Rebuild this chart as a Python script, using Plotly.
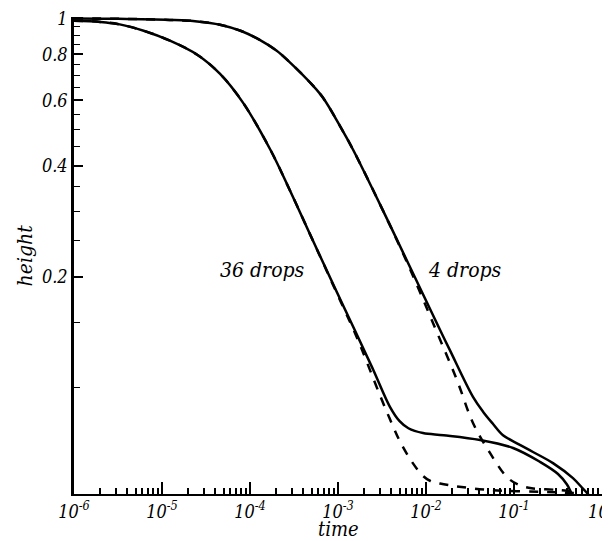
import plotly.graph_objects as go

# log10(time) and height
s36_logt = [-6.0, -5.7, -5.48, -5.2, -4.91, -4.6, -4.34, -4.08, -3.77, -3.55, -3.28, -3.06, -2.81,
            -2.6, -2.41, -2.3, -2.2, -2.034, -1.8, -1.386, -1.011, -0.705, -0.5, -0.398, -0.34, -0.28]
s36_h = [0.986, 0.979, 0.964, 0.925, 0.871, 0.798, 0.708, 0.592, 0.442, 0.344, 0.249, 0.192, 0.1435,
         0.112, 0.0889, 0.0813, 0.0778, 0.0755, 0.0745, 0.0723, 0.0688, 0.0631, 0.0585, 0.0548, 0.0516, 0.049]

d36_logt = [-6.0, -5.7, -5.48, -5.2, -4.91, -4.6, -4.34, -4.08, -3.77, -3.55, -3.28, -3.06, -2.81,
            -2.727, -2.523, -2.4, -2.295, -2.16, -2.034, -1.95, -1.841, -1.307, -0.511, -0.3]
d36_h = [0.986, 0.979, 0.964, 0.925, 0.871, 0.798, 0.708, 0.592, 0.442, 0.344, 0.249, 0.191, 0.1413,
         0.1268, 0.0955, 0.0813, 0.0716, 0.0631, 0.0578, 0.056, 0.0551, 0.053, 0.0522, 0.0519]

s4_logt = [-6.0, -5.5, -4.91, -4.6, -4.34, -4.1, -3.89, -3.7, -3.55, -3.3, -3.17, -2.98, -2.83, -2.52,
           -2.22, -1.84, -1.73, -1.466, -1.35, -1.24, -1.125, -0.95, -0.784, -0.557, -0.33, -0.22, -0.16, -0.1]
s4_h = [1.0, 0.998, 0.991, 0.982, 0.962, 0.925, 0.875, 0.819, 0.762, 0.664, 0.61, 0.513, 0.442, 0.313,
        0.222, 0.1435, 0.1268, 0.0946, 0.0861, 0.08, 0.0745, 0.0705, 0.0671, 0.0626, 0.057, 0.0535, 0.0516,
        0.049]

d4_logt = [-6.0, -5.5, -4.91, -4.6, -4.34, -4.1, -3.89, -3.7, -3.55, -3.3, -3.17, -2.98, -2.83, -2.52,
           -2.22, -1.9, -1.648, -1.466, -1.273, -1.08, -0.95, -0.8, -0.511, -0.3]
d4_h = [1.0, 0.998, 0.991, 0.982, 0.962, 0.925, 0.875, 0.819, 0.762, 0.664, 0.61, 0.513, 0.442, 0.313,
        0.22, 0.146, 0.105, 0.0804, 0.0667, 0.0574, 0.0547, 0.0535, 0.053, 0.0525]

x_major = [1e-6, 1e-5, 1e-4, 1e-3, 1e-2, 1e-1, 1e0]
x_labels = ["10<sup>-6</sup>", "10<sup>-5</sup>", "10<sup>-4</sup>", "10<sup>-3</sup>",
            "10<sup>-2</sup>", "10<sup>-1</sup>", "10<sup>0</sup>"]
y_major = [0.2, 0.4, 0.6, 0.8, 1]
y_labels = ["0.2", "0.4", "0.6", "0.8", "1"]
y_minor = [0.1, 0.15, 0.25, 0.3, 0.35, 0.45, 0.5, 0.55, 0.65, 0.7, 0.75, 0.85, 0.9, 0.95]

x_minor = [m * d for d in x_major[:-1] for m in range(2, 10)]

# only serif face that is really installed
SERIF = "DejaVu Serif Condensed, DejaVu Serif, serif"


def ital(size):
    return dict(family=SERIF, size=size, style="italic", color="black")


fig = go.Figure()
for lt, h, dash in [(s36_logt, s36_h, "solid"), (d36_logt, d36_h, "dash"),
                    (s4_logt, s4_h, "solid"), (d4_logt, d4_h, "dash")]:
    fig.add_trace(go.Scatter(x=[10 ** v for v in lt], y=h, mode="lines",
                             line=dict(color="black", width=2.5, dash=dash, shape="spline", smoothing=1.0),
                             showlegend=False))

# annotation positions on log axes are given in log10 units
fig.add_annotation(x=-3.86, y=-0.68, xref="x", yref="y", text="36 drops", showarrow=False, font=ital(21))
fig.add_annotation(x=-1.56, y=-0.68, xref="x", yref="y", text="4 drops", showarrow=False, font=ital(21))
fig.add_annotation(x=0.5, y=-0.074, xref="paper", yref="paper", text="time", showarrow=False,
                   yanchor="middle", font=ital(20))
fig.add_annotation(x=-0.093, y=0.5, xref="paper", yref="paper", text="height", showarrow=False,
                   textangle=-90, xanchor="center", font=ital(21))

fig.update_xaxes(type="log", range=[-6, 0], tickvals=x_major, ticktext=x_labels, automargin=False,
                 ticklabeloverflow="allow",
                 ticks="inside", ticklen=12, tickwidth=2, tickcolor="black",
                 minor=dict(tickvals=x_minor, ticks="inside", ticklen=6, tickwidth=1.5, tickcolor="black"),
                 showline=True, linecolor="black", linewidth=2, showgrid=False, zeroline=False,
                 tickfont=ital(18))
fig.update_yaxes(type="log", range=[-1.287, 0.004], tickvals=y_major, ticktext=y_labels, automargin=False,
                 ticklabeloverflow="allow",
                 ticks="inside", ticklen=9, tickwidth=2, tickcolor="black",
                 minor=dict(tickvals=y_minor, ticks="inside", ticklen=6, tickwidth=1, tickcolor="black"),
                 showline=True, linecolor="black", linewidth=2.5, showgrid=False, zeroline=False,
                 tickfont=ital(18))
# page body has an 8px margin, so the figure is shrunk by that much
fig.update_layout(width=602, height=533, margin=dict(l=66, r=8, t=9, b=47),
                  paper_bgcolor="white", plot_bgcolor="white")
fig.write_html("out.html")
